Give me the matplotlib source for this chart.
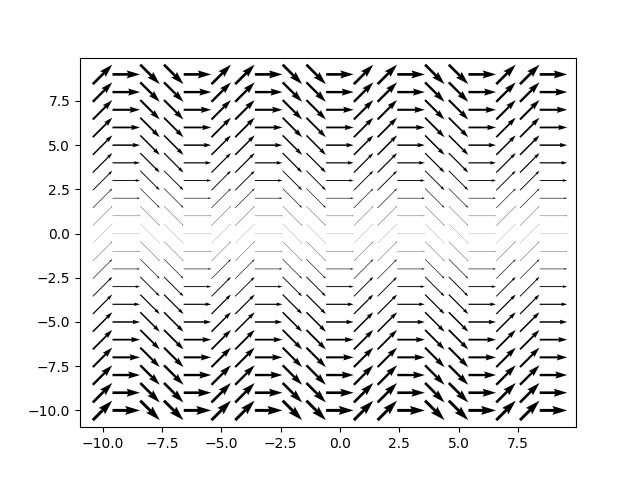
import numpy as np
import matplotlib
matplotlib.use("Agg")
import matplotlib.pyplot as plt

# grid of arrow centres
xs = [-10, -9, -8, -7, -6, -5, -4, -3, -2, -1, 0, 1, 2, 3, 4, 5, 6, 7, 8, 9]
ys = [-10, -9, -8, -7, -6, -5, -4, -3, -2, -1, 0, 1, 2, 3, 4, 5, 6, 7, 8, 9]
# arrow direction per column, degrees
col_angles = [45, 0, -45, -45, 0, 45, 45, 0, -45, -45,
              0, 45, 45, 0, -45, -45, 0, 45, 45, 0]

fig, ax = plt.subplots(figsize=(6.4, 4.8), dpi=100)

x = np.array(xs, dtype=float)
th = np.deg2rad(col_angles)
u, v = np.cos(th), np.sin(th)

# one quiver per row: same length, shaft width grows with |y|
for y in ys:
    w = max(0.0006 * abs(y), 0.0003)
    ax.quiver(x, np.full_like(x, y), u, v, pivot="middle",
              scale=18, width=w, color="k")

ax.set_xlim(-10.95, 9.95)
ax.set_ylim(-10.95, 9.95)

fig.savefig("out.png", dpi=100)
